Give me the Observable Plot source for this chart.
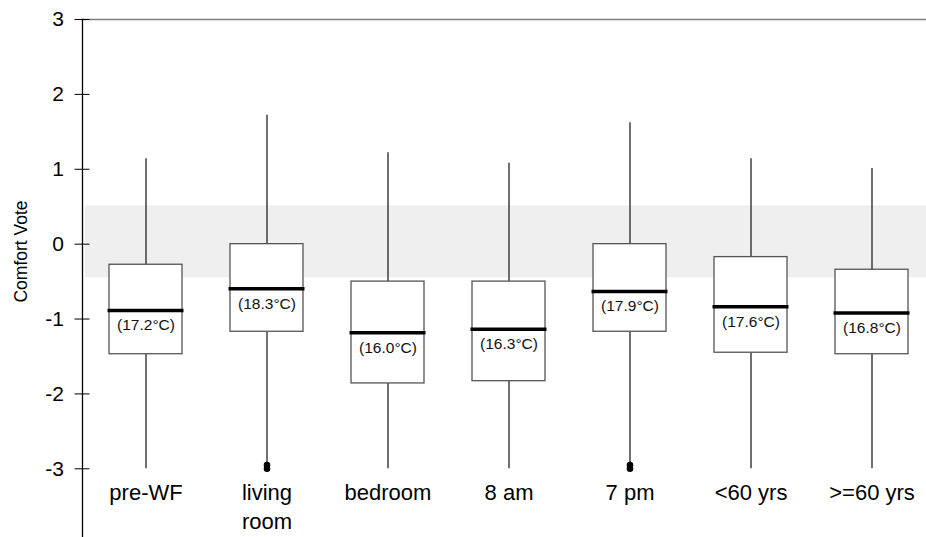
<!DOCTYPE html>
<html>
<head>
<meta charset="utf-8">
<script src="https://cdn.jsdelivr.net/npm/d3@7"></script>
<script src="https://cdn.jsdelivr.net/npm/@observablehq/plot@0.6"></script>
<style>
  html, body { margin: 0; padding: 0; background: #fff; overflow: hidden; }
  #chart { width: 926px; height: 537px; overflow: hidden; }
  #chart svg { display: block; overflow: hidden !important; }
</style>
</head>
<body>
<div id="chart"></div>
<script>
// Categories and box statistics (Comfort Vote)
const categories = ["pre-WF", "living\nroom", "bedroom", "8 am", "7 pm", "<60 yrs", ">=60 yrs"];
const whiskerLow  = [-3.0, -3.0, -3.0, -3.0, -3.0, -3.0, -3.0];
const q1          = [-1.47, -1.17, -1.86, -1.83, -1.17, -1.45, -1.47];
const medians     = [-0.885, -0.595, -1.183, -1.135, -0.632, -0.836, -0.921];
const q3          = [-0.275, 0.0, -0.50, -0.50, 0.0, -0.173, -0.342];
const whiskerHigh = [1.14, 1.72, 1.22, 1.08, 1.62, 1.14, 1.01];
const medianTemps = ["(17.2°C)", "(18.3°C)", "(16.0°C)", "(16.3°C)", "(17.9°C)", "(17.6°C)", "(16.8°C)"];
// Outliers
const outlierCats = ["living\nroom", "living\nroom", "7 pm", "7 pm"];
const outlierVals = [-2.95, -3.0, -2.95, -3.0];
// Comfort band
const bandTop = 0.51;
const bandBottom = -0.45;
const yTicks = [-3, -2, -1, 0, 1, 2, 3];

const boxes = categories.map((c, i) => ({
  cat: c, lo: whiskerLow[i], q1: q1[i], med: medians[i], q3: q3[i], hi: whiskerHigh[i], label: medianTemps[i]
}));
const outliers = outlierCats.map((c, i) => ({cat: c, v: outlierVals[i]}));

const font = "Liberation Sans, Arial, Helvetica, sans-serif";

const chart = Plot.plot({
  width: 926,
  height: 537,
  marginLeft: 82,
  marginRight: 0,
  marginTop: 19,
  marginBottom: 0,
  style: {fontFamily: font, background: "#fff", overflow: "hidden"},
  x: {domain: categories, range: [82, 935.3], paddingInner: 0.4, paddingOuter: 0.2, axis: null},
  y: {domain: [-3, 3], range: [468.3, 19]},
  marks: [
    Plot.rectY([{}], {y1: bandBottom, y2: bandTop, fill: "#efefef", insetLeft: 3}),
    Plot.frame({anchor: "top", stroke: "#7f7f7f", strokeWidth: 1.6}),
    Plot.frame({anchor: "left", stroke: "#000", strokeWidth: 1.3}),
    Plot.axisY({ticks: yTicks, tickSize: 15, dx: 7.5, tickPadding: 11, tickFormat: d => String(d).replace("−", "-"),
      fontSize: 21, label: null, stroke: "#000", strokeWidth: 1, fill: "#000"}),
    Plot.text(["Comfort Vote"], {frameAnchor: "left", textAnchor: "middle", rotate: -90, dx: -61, dy: -27, fontSize: 17.5, fill: "#000"}),
    Plot.ruleX(boxes, {x: "cat", y1: "q3", y2: "hi", stroke: "#222", strokeWidth: 1.3}),
    Plot.ruleX(boxes, {x: "cat", y1: "lo", y2: "q1", stroke: "#222", strokeWidth: 1.3}),
    Plot.barY(boxes, {x: "cat", y1: "q1", y2: "q3", fill: "white", stroke: "#555", strokeWidth: 1.3}),
    Plot.tickY(boxes, {x: "cat", y: "med", stroke: "#000", strokeWidth: 3.5, insetLeft: -1.5, insetRight: -1.5}),
    Plot.text(boxes, {x: "cat", y: "med", text: "label", dy: 15, fontSize: 15.5, fill: "#111"}),
    Plot.dot(outliers, {x: "cat", y: "v", r: 3.3, fill: "#000", stroke: "none"}),
    Plot.text(boxes, {x: "cat", y: "lo", text: "cat", lineAnchor: "top", dy: 11, fontSize: 22, lineHeight: 1.3, fill: "#000"})
  ]
});
document.getElementById("chart").appendChild(chart);
</script>
</body>
</html>
